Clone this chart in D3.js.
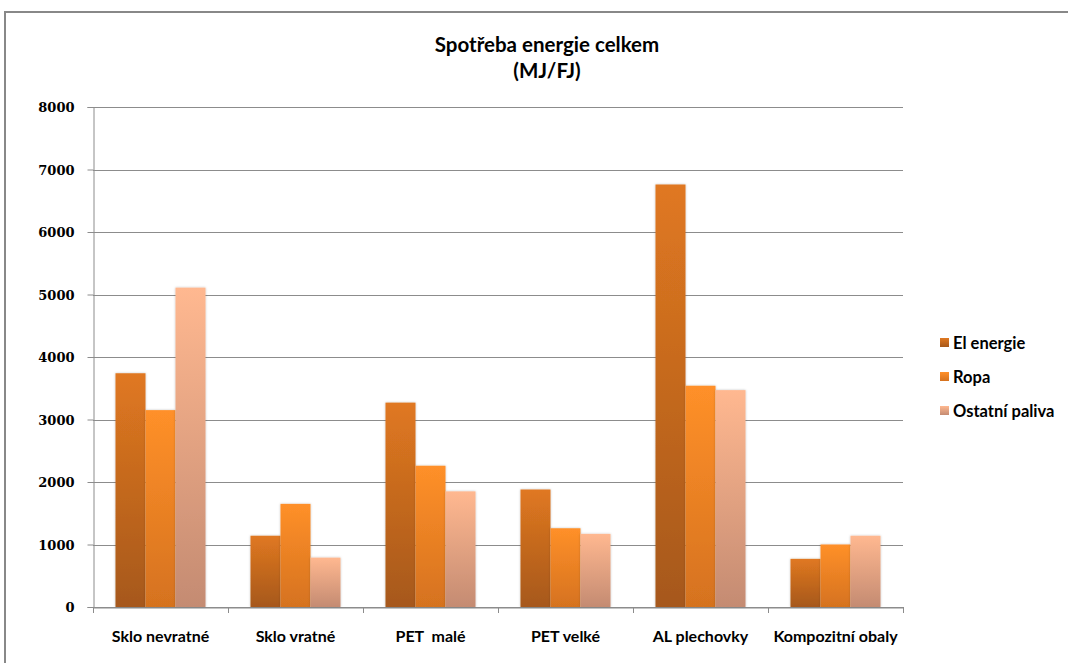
<!DOCTYPE html>
<html><head><meta charset="utf-8">
<script src="https://cdn.jsdelivr.net/npm/d3@7"></script>
<style>body{margin:0;background:#fff;} svg{display:block;} text{font-family:Lato,"Open Sans",sans-serif;font-weight:bold;fill:#000;}</style>
</head><body>
<script>
const categories = ["Sklo nevratné","Sklo vratné","PET  malé","PET velké","AL plechovky","Kompozitní obaly"];
const seriesNames = ["El energie","Ropa","Ostatní paliva"];
const elEnergie = [3740, 1140, 3270, 1880, 6760, 770];
const ropa = [3150, 1650, 2260, 1260, 3540, 1000];
const ostatni = [5110, 790, 1850, 1170, 3470, 1140];
const yTicks = [0,1000,2000,3000,4000,5000,6000,7000,8000];
const titleLines = ["Spotřeba energie celkem","(MJ/FJ)"];

(function(){
const W=1068,H=663;
const svg=d3.select("body").append("svg").attr("width",W).attr("height",H);
const defs=svg.append("defs");
const grads=[["#E07821","#A6581A"],["#FF9029","#D5721F"],["#FFB890","#C48B72"]];
grads.forEach((g,i)=>{const lg=defs.append("linearGradient").attr("id","g"+i).attr("x1",0).attr("y1",0).attr("x2",0).attr("y2",1);
 lg.append("stop").attr("offset","0%").attr("stop-color",g[0]);lg.append("stop").attr("offset","100%").attr("stop-color",g[1]);});
const f=defs.append("filter").attr("id","sh").attr("x","-20%").attr("y","-5%").attr("width","140%").attr("height","110%");
f.append("feDropShadow").attr("dx",0).attr("dy",0).attr("stdDeviation",1.2).attr("flood-color","#000").attr("flood-opacity",0.25);

// frame
svg.append("rect").attr("x",5).attr("y",12).attr("width",W+20).attr("height",H+20).attr("fill","none").attr("stroke","#888").attr("stroke-width",2);

const pl=93,pr=903,pt=107,pb=607;
const y=d3.scaleLinear().domain([0,8000]).range([pb,pt]);
const x0=d3.scaleBand().domain(categories).range([pl,pr]).paddingInner(0).paddingOuter(0);
const x1=d3.scaleBand().domain(seriesNames).range([x0.bandwidth()/6,x0.bandwidth()*5/6]);

// gridlines
svg.append("g").selectAll("line").data(yTicks).join("line")
 .attr("x1",pl).attr("x2",pr).attr("y1",d=>Math.round(y(d))+0.5).attr("y2",d=>Math.round(y(d))+0.5)
 .attr("stroke","#8c8c8c").attr("stroke-width",1);

// y axis
const ya=svg.append("g").attr("transform",`translate(${pl+0.5},0)`).call(d3.axisLeft(y).tickValues(yTicks).tickSize(6).tickPadding(13).tickFormat(d3.format("d")));
ya.select(".domain").attr("stroke","#8c8c8c");
ya.selectAll(".tick line").attr("stroke","#8c8c8c");
ya.selectAll("text").style("font-size","13px").style("font-family","'DejaVu Serif',serif").attr("dy","0.35em");

// bars
const series=[elEnergie,ropa,ostatni];
const g=svg.append("g");
categories.forEach((c,ci)=>{
 series.forEach((s,si)=>{
  g.append("rect").attr("x",x0(c)+x1(seriesNames[si])).attr("width",x1.bandwidth())
   .attr("y",y(s[ci])).attr("height",pb-y(s[ci])).attr("fill",`url(#g${si})`).attr("filter","url(#sh)");
 });
});

// x axis
const xa=svg.append("g").attr("transform",`translate(0,${pb+0.5})`).call(d3.axisBottom(x0).tickSize(0).tickPadding(23));
xa.select(".domain").attr("stroke","#8c8c8c");
xa.selectAll("text").style("font-size","16px").style("white-space","pre");
svg.append("g").selectAll("line").data(d3.range(categories.length+1)).join("line")
 .attr("x1",d=>Math.round(pl+d*x0.step())+0.5).attr("x2",d=>Math.round(pl+d*x0.step())+0.5)
 .attr("y1",pb).attr("y2",pb+6).attr("stroke","#8c8c8c");

// title
svg.append("g").selectAll("text").data(titleLines).join("text")
 .attr("x",547).attr("y",(d,i)=>52+i*26).attr("text-anchor","middle").style("font-size","20.5px").text(d=>d);

// legend
const lg=svg.append("g").attr("transform","translate(940,343)");
seriesNames.forEach((n,i)=>{
 lg.append("rect").attr("x",0).attr("y",i*34-5).attr("width",9).attr("height",9).attr("fill",`url(#g${i})`);
 lg.append("text").attr("x",13).attr("y",i*34).attr("dy","0.35em").style("font-size","16.5px").text(n);
});
})();
</script>
</body></html>
